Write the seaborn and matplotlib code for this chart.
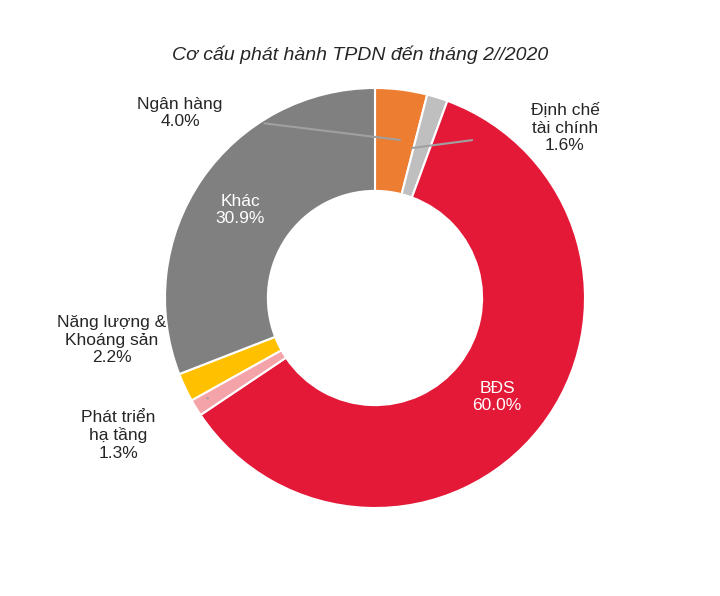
import matplotlib.pyplot as plt
import seaborn as sns

sns.set_theme(style="white")
plt.rcParams['font.family'] = ['Liberation Sans', 'DejaVu Sans']

sectors = ['Ngân hàng', 'Định chế\ntài chính', 'BĐS', 'Phát triển\nhạ tầng', 'Năng lượng &\nKhoáng sản', 'Khác']
shares = [4.0, 1.6, 60.0, 1.3, 2.2, 30.9]
colors = ['#ED7D31', '#BFBFBF', '#E31937', '#F4A3A8', '#FFC000', '#808080']

fig = plt.figure(figsize=(7.2, 5.96), dpi=100)
cx, cy, R = 375, 298, 210
ax = fig.add_axes([(cx - R) / 720, (596 - cy - R) / 596, 2 * R / 720, 2 * R / 596])
ax.pie(shares, colors=colors, startangle=90, counterclock=False,
       wedgeprops=dict(width=0.49, edgecolor='white', linewidth=1.5))
ax.set_xlim(-1, 1)
ax.set_ylim(-1, 1)
ax.set_aspect('auto')
ax.axis('off')

def p(x, y):
    return ((x - cx) / R, (cy - y) / R)

fs = 12.5
labels = [f'{s}\n{v:.1f}%' for s, v in zip(sectors, shares)]
# outside labels with leader lines
ax.annotate(labels[0], xy=p(400, 140), xytext=p(180, 113), ha='center', va='center', fontsize=fs,
            arrowprops=dict(arrowstyle='-', color='#A0A0A0', lw=1.5, shrinkA=28, shrinkB=0))
ax.annotate(labels[1], xy=p(412, 148), xytext=p(565, 128), ha='center', va='center', fontsize=fs,
            arrowprops=dict(arrowstyle='-', color='#A0A0A0', lw=1.5, shrinkA=40, shrinkB=0))
ax.annotate(labels[3], xy=p(208, 398), xytext=p(118, 435), ha='center', va='center', fontsize=fs,
            arrowprops=dict(arrowstyle='-', color='#A0A0A0', lw=1.5, shrinkA=38, shrinkB=0))
ax.text(*p(112, 340), labels[4], ha='center', va='center', fontsize=fs)
ax.text(*p(240, 210), labels[5], ha='center', va='center', fontsize=fs, color='white')
ax.text(*p(497, 397), labels[2], ha='center', va='center', fontsize=fs, color='white')

fig.text(360 / 720, 1 - 55 / 596, 'Cơ cấu phát hành TPDN đến tháng 2//2020', ha='center', va='center',
         fontsize=14, style='italic')

plt.savefig('out.png', dpi=100)
plt.close()
